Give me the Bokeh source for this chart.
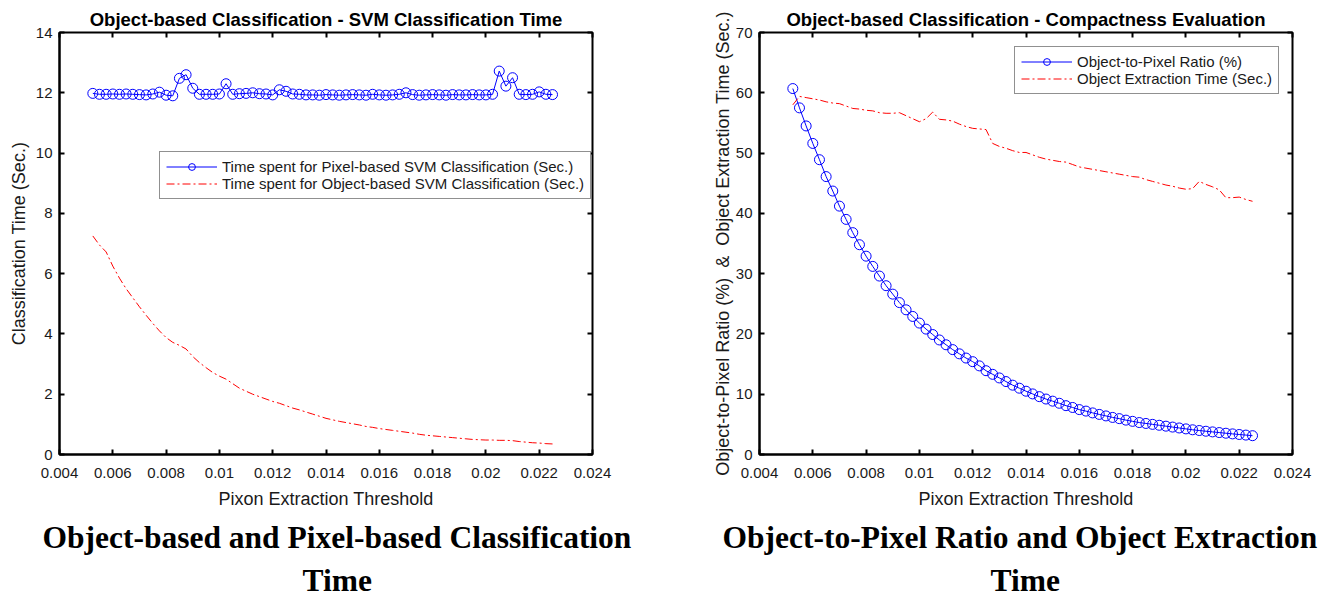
from bokeh.plotting import figure
from bokeh.models import Range1d, LinearAxis, FixedTicker, Legend, LegendItem, Title
from bokeh.layouts import row
from bokeh.embed import file_html
from bokeh.resources import INLINE

# ---------------- data ----------------
thresholds = [0.00525, 0.0055, 0.00575, 0.006, 0.00625, 0.0065, 0.00675, 0.007, 0.00725, 0.0075,
              0.00775, 0.008, 0.00825, 0.0085, 0.00875, 0.009, 0.00925, 0.0095, 0.00975, 0.01,
              0.01025, 0.0105, 0.01075, 0.011, 0.01125, 0.0115, 0.01175, 0.012, 0.01225, 0.0125,
              0.01275, 0.013, 0.01325, 0.0135, 0.01375, 0.014, 0.01425, 0.0145, 0.01475, 0.015,
              0.01525, 0.0155, 0.01575, 0.016, 0.01625, 0.0165, 0.01675, 0.017, 0.01725, 0.0175,
              0.01775, 0.018, 0.01825, 0.0185, 0.01875, 0.019, 0.01925, 0.0195, 0.01975, 0.02,
              0.02025, 0.0205, 0.02075, 0.021, 0.02125, 0.0215, 0.02175, 0.022, 0.02225, 0.0225]

pixel_svm_time = [11.98, 11.95, 11.95, 11.96, 11.95, 11.96, 11.95, 11.94, 11.93, 11.96,
                  12.02, 11.92, 11.90, 12.48, 12.60, 12.15, 11.95, 11.95, 11.95, 11.96,
                  12.30, 11.95, 11.97, 11.98, 12.00, 11.97, 11.96, 11.93, 12.10, 12.05,
                  11.96, 11.95, 11.93, 11.93, 11.92, 11.94, 11.93, 11.92, 11.93, 11.94,
                  11.93, 11.92, 11.95, 11.93, 11.92, 11.93, 11.95, 12.00, 11.94, 11.92,
                  11.93, 11.94, 11.93, 11.92, 11.94, 11.93, 11.93, 11.94, 11.93, 11.93,
                  11.95, 12.72, 12.22, 12.50, 11.95, 11.94, 11.95, 12.03, 11.95, 11.94]

object_svm_time = [7.25, 6.95, 6.72, 6.25, 5.85, 5.50, 5.20, 4.90, 4.62, 4.35,
                   4.10, 3.88, 3.72, 3.62, 3.50, 3.25, 3.05, 2.88, 2.72, 2.60,
                   2.50, 2.35, 2.20, 2.10, 2.00, 1.92, 1.84, 1.76, 1.70, 1.62,
                   1.54, 1.48, 1.41, 1.34, 1.27, 1.20, 1.15, 1.10, 1.06, 1.02,
                   0.98, 0.93, 0.90, 0.86, 0.83, 0.80, 0.77, 0.74, 0.71, 0.67,
                   0.64, 0.62, 0.60, 0.58, 0.56, 0.54, 0.52, 0.50, 0.49, 0.48,
                   0.48, 0.47, 0.47, 0.46, 0.43, 0.41, 0.39, 0.38, 0.36, 0.35]

object_pixel_ratio = [60.7, 57.5, 54.5, 51.6, 48.9, 46.1, 43.7, 41.2, 39.0, 36.8,
                      34.8, 32.9, 31.2, 29.6, 28.0, 26.6, 25.2, 24.0, 22.9, 21.8,
                      20.8, 19.9, 19.0, 18.2, 17.4, 16.7, 16.0, 15.4, 14.7, 13.9,
                      13.3, 12.7, 12.1, 11.5, 11.0, 10.5, 10.05, 9.6, 9.2, 8.85,
                      8.5, 8.1, 7.8, 7.45, 7.2, 6.9, 6.65, 6.4, 6.15, 5.95,
                      5.7, 5.5, 5.3, 5.15, 5.0, 4.85, 4.7, 4.55, 4.4, 4.25,
                      4.1, 3.98, 3.86, 3.75, 3.64, 3.53, 3.42, 3.32, 3.22, 3.12]

object_extraction_time = [58.0, 59.4, 59.2, 59.0, 58.8, 58.5, 58.3, 58.2, 57.8, 57.4,
                          57.3, 57.1, 57.0, 56.7, 56.6, 56.6, 56.7, 56.2, 55.7, 55.2,
                          55.7, 56.8, 55.6, 55.5, 55.3, 54.8, 54.4, 54.1, 54.0, 53.9,
                          51.6, 51.1, 50.8, 50.4, 50.1, 50.1, 49.7, 49.3, 49.0, 48.8,
                          48.6, 48.5, 48.1, 47.7, 47.5, 47.3, 47.1, 46.9, 46.7, 46.5,
                          46.3, 46.1, 46.0, 45.6, 45.3, 45.0, 44.7, 44.5, 44.2, 44.0,
                          44.1, 45.3, 44.8, 44.4, 43.9, 42.6, 42.6, 42.7, 42.3, 42.0]

x_tick_values = [0.004, 0.006, 0.008, 0.010, 0.012, 0.014, 0.016, 0.018, 0.020, 0.022, 0.024]
x_tick_labels = ["0.004", "0.006", "0.008", "0.01", "0.012", "0.014", "0.016", "0.018",
                 "0.02", "0.022", "0.024"]
left_y_ticks = [0, 2, 4, 6, 8, 10, 12, 14]
right_y_ticks = [0, 10, 20, 30, 40, 50, 60, 70]

SANS = "Liberation Sans"
SERIF = "Liberation Serif"
TXT = "#1a1a1a"


def style_axes(p, yticks):
    p.xgrid.visible = False
    p.ygrid.visible = False
    p.outline_line_color = "black"
    p.outline_line_width = 2
    p.background_fill_color = "white"
    p.border_fill_color = "white"
    p.xaxis.ticker = FixedTicker(ticks=x_tick_values)
    p.xaxis.major_label_overrides = {v: s for v, s in zip(x_tick_values, x_tick_labels)}
    p.yaxis.ticker = FixedTicker(ticks=yticks)
    for ax in p.xaxis + p.yaxis:
        ax.axis_line_color = "black"
        ax.axis_line_width = 2
        ax.major_tick_in = 5
        ax.major_tick_out = 0
        ax.major_tick_line_width = 2
        ax.major_tick_line_color = "black"
        ax.minor_tick_line_color = None
        ax.major_label_text_font = SANS
        ax.major_label_text_font_size = "15px"
        ax.major_label_text_color = TXT
        ax.axis_label_text_font = SANS
        ax.axis_label_text_font_size = "18px"
        ax.axis_label_text_font_style = "normal"
        ax.axis_label_text_color = TXT
    p.xaxis.major_label_standoff = 13
    p.xaxis.axis_label_standoff = 8
    p.yaxis.major_label_standoff = 7
    # box ticks on top and right (no labels)
    top = LinearAxis(ticker=FixedTicker(ticks=x_tick_values))
    right = LinearAxis(ticker=FixedTicker(ticks=yticks))
    for ax in (top, right):
        ax.axis_line_color = None
        ax.major_tick_in = 5
        ax.major_tick_out = 0
        ax.major_tick_line_width = 2
        ax.major_tick_line_color = "black"
        ax.minor_tick_line_color = None
        ax.major_label_text_font_size = "1px"
        ax.major_label_text_color = None
        ax.major_label_standoff = 0
    p.add_layout(top, "above")
    p.add_layout(right, "right")
    p.title.text_font = SANS
    p.title.text_font_size = "18.5px"
    p.title.text_font_style = "bold"
    p.title.text_color = "black"
    p.title.align = "center"
    p.title.standoff = 6


def add_caption(p, line1, off1, line2, off2):
    t1 = Title(text=line1, align="left", offset=off1, text_font=SERIF, text_font_size="31.5px",
               text_font_style="bold", text_color="black", standoff=12)
    t2 = Title(text=line2, align="left", offset=off2, text_font=SERIF, text_font_size="31.5px",
               text_font_style="bold", text_color="black", standoff=0)
    p.add_layout(t1, "below")
    p.add_layout(t2, "below")


def style_legend(leg):
    leg.label_text_font = SANS
    leg.label_text_font_size = "15px"
    leg.label_text_color = TXT
    leg.border_line_color = "#222222"
    leg.border_line_width = 1
    leg.background_fill_color = "white"
    leg.background_fill_alpha = 1
    leg.padding = 6
    leg.spacing = 0
    leg.label_height = 17
    leg.glyph_height = 17
    leg.glyph_width = 51
    leg.label_standoff = 5
    leg.margin = 0


# ---------------- left figure ----------------
p1 = figure(width=700, height=599, output_backend="svg", toolbar_location=None,
            x_range=Range1d(0.004, 0.024), y_range=Range1d(0, 14),
            min_border_left=59, min_border_right=108, min_border_top=32, min_border_bottom=145,
            title="Object-based Classification - SVM Classification Time",
            x_axis_label="Pixon Extraction Threshold", y_axis_label="Classification Time (Sec.)")
style_axes(p1, left_y_ticks)
p1.yaxis.axis_label_standoff = 4

l1 = p1.line(thresholds, pixel_svm_time, line_color="#0000FF", line_width=1)
m1 = p1.scatter(thresholds, pixel_svm_time, marker="circle", size=10, fill_color=None,
                line_color="#0000FF", line_width=1)
r1 = p1.line(thresholds, object_svm_time, line_color="#FF0000", line_width=1, line_dash="8 3 2 3")

leg1 = Legend(items=[LegendItem(label="Time spent for Pixel-based SVM Classification (Sec.)", renderers=[l1, m1]),
                     LegendItem(label="Time spent for Object-based SVM Classification (Sec.)", renderers=[r1])],
              location=(100, 255))
style_legend(leg1)
p1.add_layout(leg1, "center")
add_caption(p1, "Object-based and Pixel-based Classification", -17, "Time", 243)

# ---------------- right figure ----------------
p2 = figure(width=622, height=599, output_backend="svg", toolbar_location=None,
            x_range=Range1d(0.004, 0.024), y_range=Range1d(0, 70),
            min_border_left=59, min_border_right=30, min_border_top=32, min_border_bottom=145,
            title="Object-based Classification - Compactness Evaluation",
            x_axis_label="Pixon Extraction Threshold",
            y_axis_label="Object-to-Pixel Ratio (%) \u00a0&\u00a0 Object Extraction Time (Sec.)")
style_axes(p2, right_y_ticks)
p2.yaxis.axis_label_standoff = 0

l2 = p2.line(thresholds, object_pixel_ratio, line_color="#0000FF", line_width=1)
m2 = p2.scatter(thresholds, object_pixel_ratio, marker="circle", size=10, fill_color=None,
                line_color="#0000FF", line_width=1)
r2 = p2.line(thresholds, object_extraction_time, line_color="#FF0000", line_width=1, line_dash="8 3 2 3")

leg2 = Legend(items=[LegendItem(label="Object-to-Pixel Ratio (%)", renderers=[l2, m2]),
                     LegendItem(label="Object Extraction Time (Sec.)", renderers=[r2])],
              location=(255, 360))
style_legend(leg2)
p2.add_layout(leg2, "center")
add_caption(p2, "Object-to-Pixel Ratio and Object Extraction", -37, "Time", 231)

layout = row(p1, p2)
open("out.html", "w").write(file_html(layout, INLINE))
